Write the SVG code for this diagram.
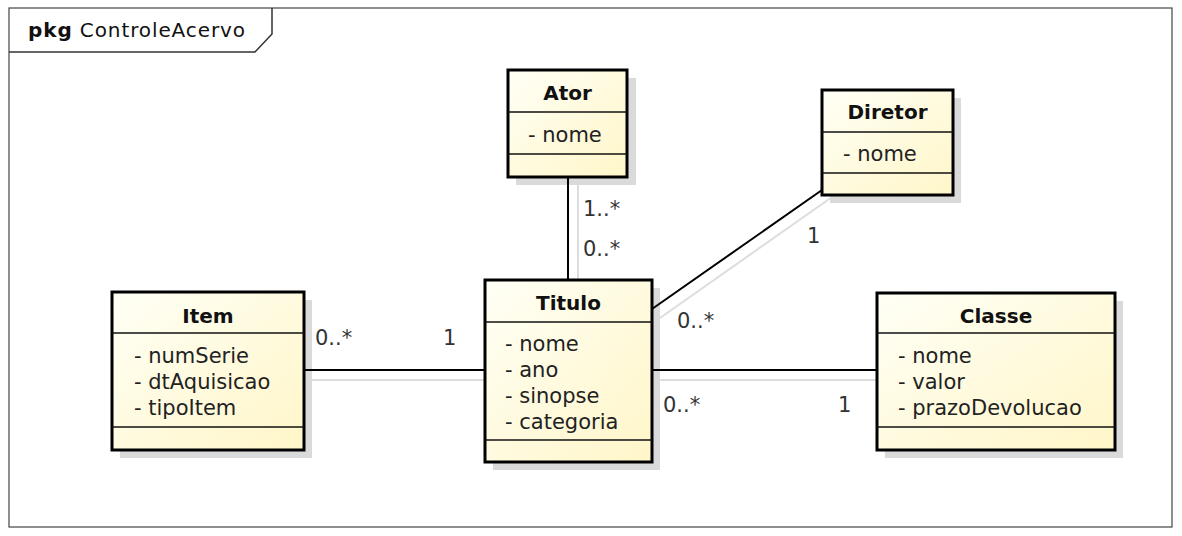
<svg xmlns="http://www.w3.org/2000/svg" width="1182" height="536" viewBox="0 0 1182 536">
<defs>
<linearGradient id="fill" x1="0" y1="0" x2="1" y2="1">
<stop offset="0" stop-color="#FFFFF6"/>
<stop offset="1" stop-color="#FFF6C8"/>
</linearGradient>
<style>
.box{fill:url(#fill);stroke:#000;stroke-width:3}
.shadow{fill:#DADADA}
.sep{stroke:#111;stroke-width:1.5}
.hd{font-family:"DejaVu Sans",sans-serif;font-weight:bold;font-size:20px;fill:#111;text-anchor:middle}
.at{font-family:"DejaVu Sans",sans-serif;font-size:21px;fill:#222}
.lb{font-family:"DejaVu Sans",sans-serif;font-size:21px;fill:#333}
.ln{stroke:#000;stroke-width:2;fill:none}
.sh{stroke:#DDD;stroke-width:2;fill:none}
</style>
</defs>
<rect width="1182" height="536" fill="#fff"/>
<g id="frame">
<rect x="9" y="8" width="1163" height="519" fill="none" stroke="#444" stroke-width="1.2"/>
<path d="M9 52 H255 L272 34 V8" fill="none" stroke="#333" stroke-width="1.5"/>
<text x="28" y="37" font-family="DejaVu Sans,sans-serif" font-size="20" fill="#111" textLength="217" lengthAdjust="spacing"><tspan font-weight="bold">pkg</tspan> ControleAcervo</text>
</g>
<g id="shadows">
<rect class="shadow" x="516" y="78" width="120" height="107"/>
<rect class="shadow" x="830" y="98" width="131" height="105"/>
<rect class="shadow" x="120" y="300" width="192" height="158"/>
<rect class="shadow" x="493" y="288" width="167" height="182"/>
<rect class="shadow" x="885" y="301" width="238" height="157"/>
</g>
<g id="connectors">
<line class="sh" x1="578" y1="185" x2="578" y2="288"/>
<line class="sh" x1="312" y1="380" x2="493" y2="380"/>
<line class="sh" x1="660" y1="380" x2="885" y2="380"/>
<line class="sh" x1="660" y1="318" x2="832" y2="197"/>
<line class="ln" x1="568" y1="177" x2="568" y2="280"/>
<line class="ln" x1="304" y1="370" x2="485" y2="370"/>
<line class="ln" x1="652" y1="370" x2="877" y2="370"/>
<line class="ln" x1="652" y1="309" x2="822" y2="190"/>
<text class="lb" x="583" y="216">1..*</text>
<text class="lb" x="583" y="256">0..*</text>
<text class="lb" x="807" y="243">1</text>
<text class="lb" x="677" y="328">0..*</text>
<text class="lb" x="315" y="345">0..*</text>
<text class="lb" x="443" y="345">1</text>
<text class="lb" x="663" y="412">0..*</text>
<text class="lb" x="838" y="412">1</text>
</g>
<g id="Ator">
<rect class="box" x="508" y="70" width="119" height="107"/>
<line class="sep" x1="508" y1="112" x2="627" y2="112"/>
<line class="sep" x1="508" y1="154" x2="627" y2="154"/>
<text class="hd" x="567.5" y="100">Ator</text>
<text class="at" x="528" y="142">- nome</text>
</g>
<g id="Diretor">
<rect class="box" x="822" y="90" width="131" height="105"/>
<line class="sep" x1="822" y1="132" x2="953" y2="132"/>
<line class="sep" x1="822" y1="173" x2="953" y2="173"/>
<text class="hd" x="887.5" y="119">Diretor</text>
<text class="at" x="843" y="161">- nome</text>
</g>
<g id="Item">
<rect class="box" x="112" y="292" width="192" height="158"/>
<line class="sep" x1="112" y1="333" x2="304" y2="333"/>
<line class="sep" x1="112" y1="427" x2="304" y2="427"/>
<text class="hd" x="208" y="323">Item</text>
<text class="at" x="134" y="363">- numSerie</text>
<text class="at" x="134" y="389">- dtAquisicao</text>
<text class="at" x="134" y="415">- tipoItem</text>
</g>
<g id="Titulo">
<rect class="box" x="485" y="280" width="167" height="182"/>
<line class="sep" x1="485" y1="322" x2="652" y2="322"/>
<line class="sep" x1="485" y1="440" x2="652" y2="440"/>
<text class="hd" x="568.5" y="310">Titulo</text>
<text class="at" x="505" y="351">- nome</text>
<text class="at" x="505" y="377">- ano</text>
<text class="at" x="505" y="403">- sinopse</text>
<text class="at" x="505" y="429">- categoria</text>
</g>
<g id="Classe">
<rect class="box" x="877" y="293" width="238" height="157"/>
<line class="sep" x1="877" y1="333" x2="1115" y2="333"/>
<line class="sep" x1="877" y1="427" x2="1115" y2="427"/>
<text class="hd" x="996" y="323">Classe</text>
<text class="at" x="898" y="363">- nome</text>
<text class="at" x="898" y="389">- valor</text>
<text class="at" x="898" y="415">- prazoDevolucao</text>
</g>
</svg>
